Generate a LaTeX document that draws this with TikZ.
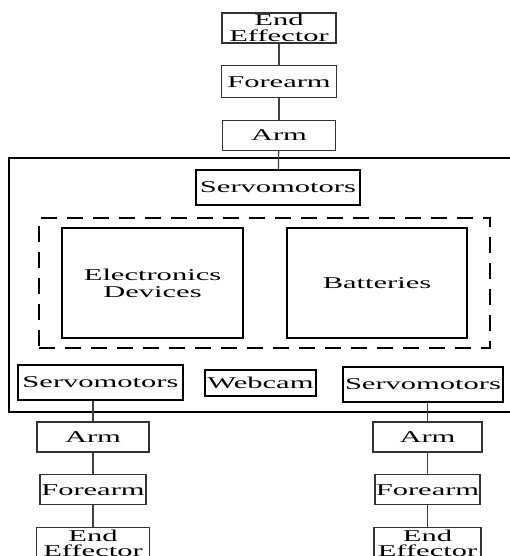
\documentclass[tikz,border=0pt]{standalone}
\usepackage{fontspec}
\setmainfont{Liberation Serif}
\usepackage{graphicx}
\usetikzlibrary{positioning}

\newcommand{\wide}[1]{\scalebox{1.85}[1]{#1}}

\begin{document}
\begin{tikzpicture}[x=1pt, y=-1pt,
  part/.style={draw=black!80, line width=1.2pt, inner sep=0pt, font=\fontsize{16.5}{15.5}\selectfont, align=center, minimum height=30pt},
  servo/.style={part, draw=black, minimum width=162pt, minimum height=35pt},
  frame/.style={draw, line width=1.5pt, inner sep=0pt},
  dashbox/.style={draw, line width=2pt, dash pattern=on 16pt off 10pt, inner sep=0pt},
  link/.style={draw=black!75, line width=1.2pt},
  node distance=21.5pt
]
\useasboundingbox (0,0) rectangle (510,556);

% Top chain
\node[part, minimum width=114pt] (ee0) at (279,28) {\wide{End}\\\wide{Effector}};
\node[part, minimum width=115pt, minimum height=32pt, below=of ee0] (fa0) {\wide{Forearm}};
\node[part, minimum width=113pt, below=of fa0] (arm0) {\wide{Arm}};

% Body
\node[frame, minimum width=511pt, minimum height=254pt] (body) at (264.5,285) {};
\node[servo, minimum width=164pt] (srv0) at (278,187.5) {\wide{Servomotors}};
\node[dashbox, minimum width=451pt, minimum height=130pt] (pack) at (264.5,283) {};
\node[part, draw=black, minimum width=181pt, minimum height=110pt, font=\fontsize{16.5}{17}\selectfont] (elec) at (152.5,283) {\wide{Electronics}\\\wide{Devices}};
\node[part, draw=black, minimum width=180pt, minimum height=110pt] (batt) at (377,283) {\wide{Batteries}};
\node[servo, minimum width=165pt] (srvL) at (100.5,382.5) {\wide{Servomotors}};
\node[part, draw=black, minimum width=111pt, minimum height=26pt] (cam) at (260.5,383) {\wide{Webcam}};
\node[servo, minimum width=160pt] (srvR) at (423,384.5) {\wide{Servomotors}};

% Left chain
\node[part, minimum width=112pt] (armL) at (93,437) {\wide{Arm}};
\node[part, minimum width=106pt, below=of armL] (faL) {\wide{Forearm}};
\node[part, minimum width=113pt, minimum height=32pt, below=of faL] (eeL) {\wide{End}\\\wide{Effector}};

% Right chain
\node[part, minimum width=109pt] (armR) at (427.5,437) {\wide{Arm}};
\node[part, minimum width=105pt, below=of armR] (faR) {\wide{Forearm}};
\node[part, minimum width=107pt, minimum height=32pt, below=of faR] (eeR) {\wide{End}\\\wide{Effector}};

% Links
\draw[link] (ee0) -- (fa0);
\draw[link] (fa0) -- (arm0);
\draw[link] (arm0) -- (srv0);
\draw[link] (srvL.south -| armL.north) -- (armL);
\draw[link] (armL) -- (faL);
\draw[link] (faL) -- (eeL);
\draw[link] (srvR.south -| armR.north) -- (armR);
\draw[link] (armR) -- (faR);
\draw[link] (faR) -- (eeR);
\end{tikzpicture}
\end{document}
